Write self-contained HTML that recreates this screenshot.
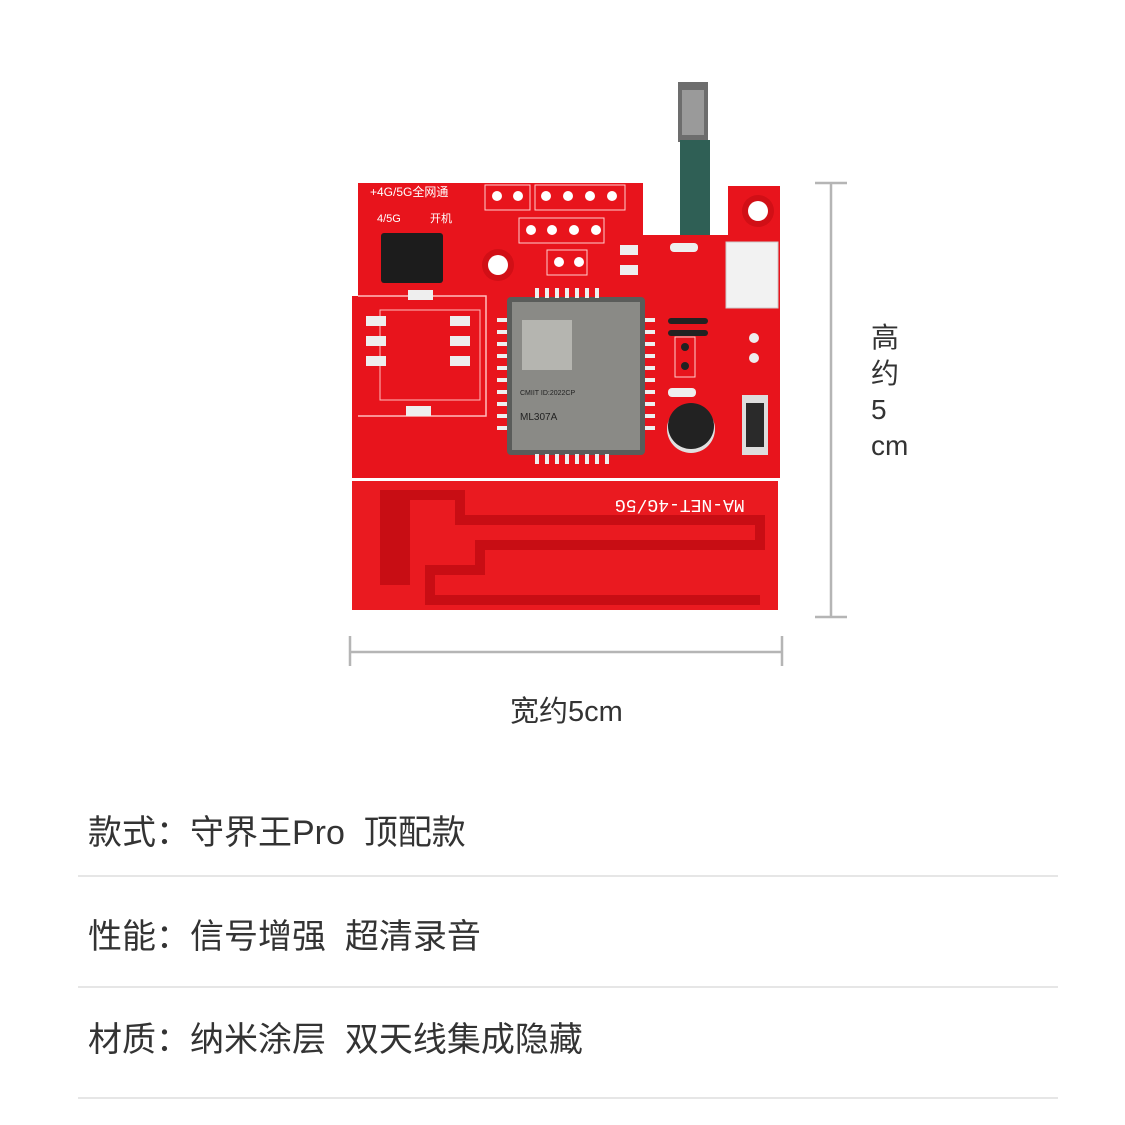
<!DOCTYPE html>
<html><head><meta charset="utf-8"><style>
html,body{margin:0;padding:0;background:#fff;}
body{width:1125px;height:1125px;position:relative;overflow:hidden;font-family:"Liberation Sans","Noto Sans CJK SC",sans-serif;color:#333;}
.t{position:absolute;white-space:pre;}
.row{position:absolute;left:88px;font-size:34px;color:#333;line-height:40px;white-space:pre;}
.line{position:absolute;left:78px;width:980px;height:2px;background:#e6e6e6;}
</style></head><body>
<svg width="1125" height="1125" style="position:absolute;left:0;top:0">
<rect x="678" y="82" width="30" height="60" fill="#6d6d6d"/>
<rect x="682" y="90" width="22" height="45" fill="#9a9a9a"/>
<rect x="680" y="140" width="30" height="100" fill="#2f5f55"/>
<path d="M358 183 H643 V235 H728 V186 H780 V478 H352 V296 H358 Z" fill="#e8141c"/>
<rect x="352" y="481" width="426" height="129" fill="#ea1a20"/>
<path d="M380 495 H460 V520 H760 V545 H480 V570 H430 V600 H760" stroke="#c80d14" stroke-width="10" fill="none"/>
<rect x="380" y="495" width="30" height="90" fill="#c80d14"/>
<text x="775" y="512" font-family="Liberation Mono,monospace" font-size="18" fill="#fff" text-anchor="end" transform="rotate(180 695 506)">MA-NET-4G/5G</text>
<path d="M358 296 H486 V416 H358" stroke="#fbb" stroke-width="1.5" fill="none"/>
<path d="M380 310 H480 V400 H380 Z" stroke="#fbb" fill="none"/>
<rect x="507" y="297" width="138" height="158" rx="4" fill="#5a5c5a"/>
<rect x="512" y="302" width="128" height="148" fill="#8a8a86"/>
<g fill="#eee">
<rect x="535" y="288" width="4" height="10"/><rect x="545" y="288" width="4" height="10"/><rect x="555" y="288" width="4" height="10"/><rect x="565" y="288" width="4" height="10"/><rect x="575" y="288" width="4" height="10"/><rect x="585" y="288" width="4" height="10"/><rect x="595" y="288" width="4" height="10"/>
<rect x="535" y="454" width="4" height="10"/><rect x="545" y="454" width="4" height="10"/><rect x="555" y="454" width="4" height="10"/><rect x="565" y="454" width="4" height="10"/><rect x="575" y="454" width="4" height="10"/><rect x="585" y="454" width="4" height="10"/><rect x="595" y="454" width="4" height="10"/><rect x="605" y="454" width="4" height="10"/>
</g>
<g fill="#eee">
<rect x="497" y="318" width="10" height="4"/><rect x="497" y="330" width="10" height="4"/><rect x="497" y="342" width="10" height="4"/><rect x="497" y="354" width="10" height="4"/><rect x="497" y="366" width="10" height="4"/><rect x="497" y="378" width="10" height="4"/><rect x="497" y="390" width="10" height="4"/><rect x="497" y="402" width="10" height="4"/><rect x="497" y="414" width="10" height="4"/><rect x="497" y="426" width="10" height="4"/>
<rect x="645" y="318" width="10" height="4"/><rect x="645" y="330" width="10" height="4"/><rect x="645" y="342" width="10" height="4"/><rect x="645" y="354" width="10" height="4"/><rect x="645" y="366" width="10" height="4"/><rect x="645" y="378" width="10" height="4"/><rect x="645" y="390" width="10" height="4"/><rect x="645" y="402" width="10" height="4"/><rect x="645" y="414" width="10" height="4"/><rect x="645" y="426" width="10" height="4"/>
</g>
<rect x="522" y="320" width="50" height="50" fill="#b5b5b0"/>
<text x="520" y="395" font-size="7" fill="#222">CMIIT ID:2022CP</text>
<text x="520" y="420" font-size="10" fill="#222">ML307A</text>
<rect x="381" y="233" width="62" height="50" rx="3" fill="#1c1c1c"/>
<circle cx="498" cy="265" r="16" fill="#d10f16"/><circle cx="498" cy="265" r="10" fill="#fff"/>
<circle cx="758" cy="211" r="16" fill="#d10f16"/><circle cx="758" cy="211" r="10" fill="#fff"/>
<rect x="485" y="185" width="45" height="25" fill="none" stroke="#fcc"/>
<rect x="535" y="185" width="90" height="25" fill="none" stroke="#fcc"/>
<rect x="519" y="218" width="85" height="25" fill="none" stroke="#fcc"/>
<rect x="547" y="250" width="40" height="25" fill="none" stroke="#fcc"/>
<g fill="#fff"><circle cx="497" cy="196" r="5"/><circle cx="518" cy="196" r="5"/><circle cx="546" cy="196" r="5"/><circle cx="568" cy="196" r="5"/><circle cx="590" cy="196" r="5"/><circle cx="612" cy="196" r="5"/><circle cx="531" cy="230" r="5"/><circle cx="552" cy="230" r="5"/><circle cx="574" cy="230" r="5"/><circle cx="596" cy="230" r="5"/><circle cx="559" cy="262" r="5"/><circle cx="579" cy="262" r="5"/></g>
<text x="370" y="196" font-size="12" fill="#fff">+4G/5G全网通</text>
<text x="377" y="222" font-size="11" fill="#fff">4/5G</text>
<text x="430" y="222" font-size="11" fill="#fff">开机</text>
<rect x="726" y="242" width="52" height="66" fill="#f2f2f2" stroke="#ccc"/>
<g fill="#eee"><rect x="366" y="316" width="20" height="10"/><rect x="366" y="336" width="20" height="10"/><rect x="366" y="356" width="20" height="10"/><rect x="450" y="316" width="20" height="10"/><rect x="450" y="336" width="20" height="10"/><rect x="450" y="356" width="20" height="10"/><rect x="408" y="290" width="25" height="10"/><rect x="406" y="406" width="25" height="10"/><rect x="620" y="245" width="18" height="10"/><rect x="620" y="265" width="18" height="10"/><rect x="670" y="243" width="28" height="9" rx="4"/><rect x="668" y="388" width="28" height="9" rx="4"/></g>
<rect x="668" y="318" width="40" height="6" rx="3" fill="#222"/><rect x="668" y="330" width="40" height="6" rx="3" fill="#222"/>
<rect x="675" y="337" width="20" height="40" fill="none" stroke="#fcc"/>
<circle cx="685" cy="347" r="4" fill="#222"/><circle cx="685" cy="366" r="4" fill="#222"/>
<circle cx="691" cy="429" r="24" fill="#e0e0e0"/><circle cx="691" cy="426" r="23" fill="#222"/>
<rect x="742" y="395" width="26" height="60" fill="#ddd"/><rect x="746" y="403" width="18" height="44" fill="#2a2a2a"/>
<circle cx="754" cy="338" r="5" fill="#eee"/><circle cx="754" cy="358" r="5" fill="#eee"/>
<g stroke="#b5b5b5" stroke-width="2.5">
<line x1="831" y1="183" x2="831" y2="617"/><line x1="815" y1="183" x2="847" y2="183"/><line x1="815" y1="617" x2="847" y2="617"/>
<line x1="350" y1="652" x2="782" y2="652"/><line x1="350" y1="636" x2="350" y2="666"/><line x1="782" y1="636" x2="782" y2="666"/>
</g>
</svg>
<div class="t" style="left:871px;top:320px;font-size:28px;line-height:36px;color:#333">高<br>约<br>5<br>cm</div>
<div class="t" style="left:510px;top:688px;font-size:29px;color:#333">宽约5cm</div>
<div class="row" style="top:813px">款式：守界王Pro  顶配款</div>
<div class="line" style="top:875px"></div>
<div class="row" style="top:917px">性能：信号增强  超清录音</div>
<div class="line" style="top:986px"></div>
<div class="row" style="top:1020px">材质：纳米涂层  双天线集成隐藏</div>
<div class="line" style="top:1097px"></div>
</body></html>
